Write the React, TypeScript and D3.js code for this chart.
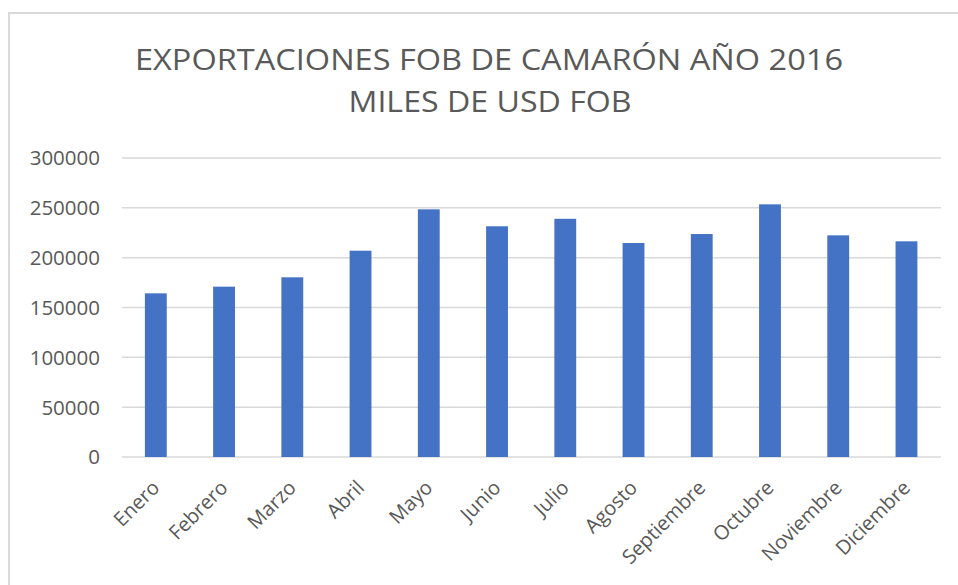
import React, { useRef, useEffect } from "react";
import * as d3 from "d3";

const months = [
  "Enero",
  "Febrero",
  "Marzo",
  "Abril",
  "Mayo",
  "Junio",
  "Julio",
  "Agosto",
  "Septiembre",
  "Octubre",
  "Noviembre",
  "Diciembre",
];
const exportsFob = [
  164200, 170900, 180300, 207000, 248500, 231500, 239000, 214700, 223700,
  253500, 222400, 216400,
];
const yTicks = [0, 50000, 100000, 150000, 200000, 250000, 300000];
const titleLines = ["EXPORTACIONES FOB DE CAMARÓN AÑO 2016", "MILES DE USD FOB"];

const App = () => {
  const container = useRef<SVGSVGElement>(null);

  const width = 958;
  const height = 585;
  const font = "'Open Sans', 'Noto Sans', sans-serif";
  const textColor = "#595959";

  useEffect(() => {
    const svg = d3.select(container.current);
    svg.selectAll("*").remove();

    // chart frame
    svg
      .append("rect")
      .attr("x", 9)
      .attr("y", 13)
      .attr("width", 980)
      .attr("height", 620)
      .attr("fill", "#ffffff")
      .attr("stroke", "#d9d9d9")
      .attr("stroke-width", 2);

    // scales
    const xScale = d3
      .scaleBand()
      .domain(months)
      .range([121.7, 940.6])
      .paddingInner(0.68)
      .paddingOuter(0.34);

    const yScale = d3.scaleLinear().domain([0, 300000]).range([457, 158]);

    // gridlines
    svg
      .append("g")
      .selectAll("line")
      .data(yTicks)
      .enter()
      .append("line")
      .attr("x1", 122)
      .attr("x2", 941)
      .attr("y1", (d) => yScale(d))
      .attr("y2", (d) => yScale(d))
      .attr("stroke", "#d9d9d9")
      .attr("stroke-width", 1.5);

    // y labels
    svg
      .append("g")
      .selectAll("text")
      .data(yTicks)
      .enter()
      .append("text")
      .attr("x", 100)
      .attr("y", (d) => yScale(d))
      .attr("dy", "0.36em")
      .attr("text-anchor", "end")
      .style("font-family", font)
      .style("font-size", "20.5px")
      .style("fill", textColor)
      .text((d) => String(d));

    // bars
    svg
      .append("g")
      .selectAll("rect")
      .data(months)
      .enter()
      .append("rect")
      .attr("x", (d) => xScale(d)!)
      .attr("y", (d, i) => yScale(exportsFob[i]))
      .attr("width", xScale.bandwidth())
      .attr("height", (d, i) => 457 - yScale(exportsFob[i]))
      .attr("fill", "#4472c4");

    // x labels, rotated
    svg
      .append("g")
      .selectAll("text")
      .data(months)
      .enter()
      .append("text")
      .attr(
        "transform",
        (d) =>
          `translate(${xScale(d)! + xScale.bandwidth() / 2 + 5}, 489) rotate(-45)`
      )
      .attr("text-anchor", "end")
      .style("font-family", font)
      .style("font-size", "20px")
      .style("fill", textColor)
      .text((d) => d);

    // title
    svg
      .append("text")
      .attr("x", 489)
      .attr("y", 70)
      .attr("text-anchor", "middle")
      .attr("textLength", 708)
      .attr("lengthAdjust", "spacingAndGlyphs")
      .style("font-family", font)
      .style("font-size", "29px")
      .style("fill", textColor)
      .text(titleLines[0]);

    svg
      .append("text")
      .attr("x", 490)
      .attr("y", 112)
      .attr("text-anchor", "middle")
      .attr("textLength", 283)
      .attr("lengthAdjust", "spacingAndGlyphs")
      .style("font-family", font)
      .style("font-size", "29px")
      .style("fill", textColor)
      .text(titleLines[1]);
  }, []);

  return (
    <div style={{ position: "fixed", left: 0, top: 0, width: width, height: height }}>
      <svg ref={container} width={width} height={height} style={{ display: "block" }} />
    </div>
  );
};

export default App;
